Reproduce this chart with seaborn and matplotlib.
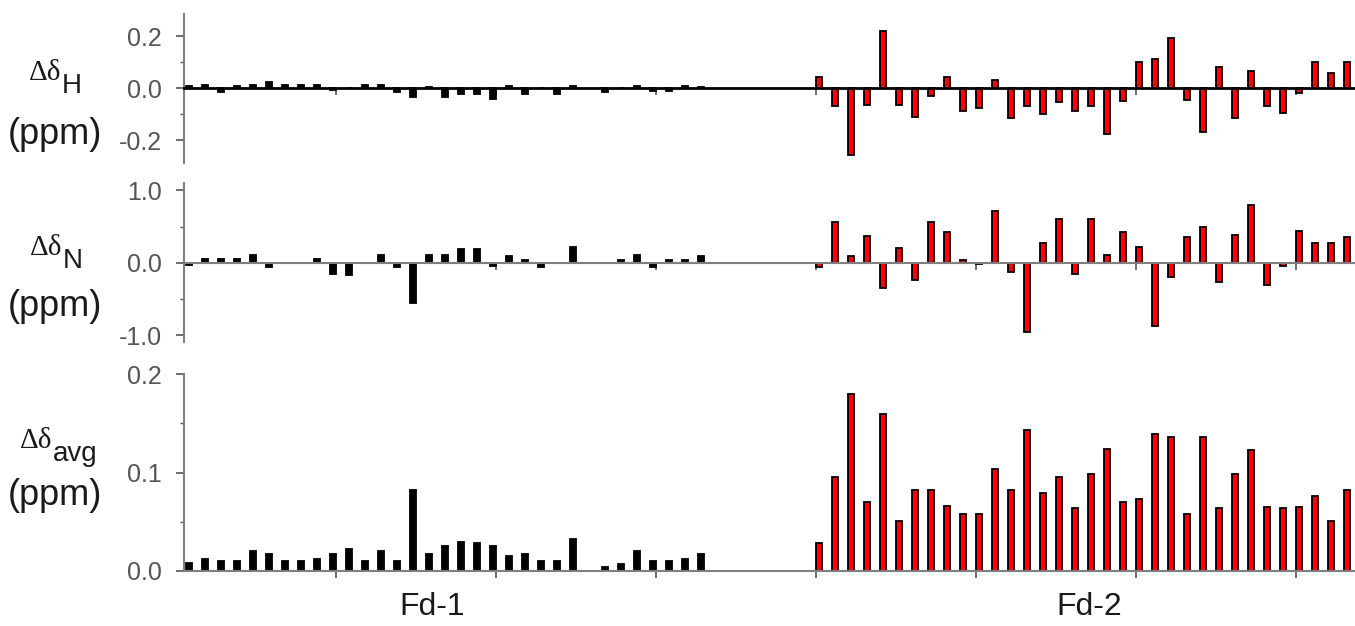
import numpy as np
import pandas as pd
import matplotlib
matplotlib.use("Agg")
import matplotlib.pyplot as plt
import matplotlib.transforms as mtransforms
import seaborn as sns

# ---------------- data ----------------
fd1_residues = [1, 2, 3, 4, 5, 6, 7, 8, 9, 10, 11, 12, 13, 14, 15, 16, 17, 18, 19, 20,
                21, 22, 23, 24, 25, 27, 28, 29, 30, 31, 32, 33]
fd1_dH = [0.008, 0.014, -0.015, 0.008, 0.012, 0.023, 0.012, 0.012, 0.012, -0.008,
          0.0, 0.012, 0.012, -0.014, -0.032, 0.006, -0.033, -0.021, -0.021, -0.040,
          0.008, -0.021, 0.0, -0.020, 0.010, -0.013, 0.0, 0.011, -0.012, -0.012,
          0.011, 0.007]
fd1_dN = [-0.035, 0.05, 0.05, 0.05, 0.11, -0.06, 0.0, 0.0, 0.05, -0.15,
          -0.17, 0.0, 0.11, -0.06, -0.55, 0.11, 0.11, 0.19, 0.19, -0.04,
          0.09, 0.045, -0.06, 0.0, 0.22, 0.0, 0.045, 0.11, -0.06, 0.045,
          0.045, 0.10]
fd1_avg = [0.008, 0.0126, 0.0103, 0.0103, 0.0199, 0.0172, 0.0103, 0.0103, 0.0126, 0.0172,
           0.0226, 0.0103, 0.0199, 0.0103, 0.0826, 0.0172, 0.0252, 0.0298, 0.028, 0.0252,
           0.0157, 0.0172, 0.0103, 0.0103, 0.0329, 0.0042, 0.0076, 0.0199, 0.0103, 0.0103,
           0.0126, 0.0172]

fd2_residues = [40, 41, 42, 43, 44, 45, 46, 47, 48, 49, 50, 51, 52, 53, 54, 55, 56,
                57, 58, 59, 60, 61, 62, 63, 64, 65, 66, 67, 68, 69, 70, 71, 72, 73]
fd2_dH = [0.043, -0.069, -0.255, -0.064, 0.219, -0.064, -0.109, -0.028, 0.043, -0.088,
          -0.076, 0.031, -0.113, -0.069, -0.097, -0.054, -0.087, -0.069, -0.176, -0.049,
          0.101, 0.112, 0.193, -0.046, -0.166, 0.081, -0.113, 0.066, -0.069, -0.094,
          -0.016, 0.101, 0.060, 0.101]
fd2_dN = [-0.06, 0.56, 0.10, 0.37, -0.34, 0.21, -0.23, 0.56, 0.42, 0.04,
          -0.02, 0.72, -0.13, -0.95, 0.27, 0.60, -0.16, 0.60, 0.11, 0.43,
          0.22, -0.87, -0.20, 0.35, 0.49, -0.27, 0.38, 0.80, -0.31, -0.05,
          0.44, 0.27, 0.27, 0.35]
fd2_avg = [0.028, 0.0956, 0.180, 0.070, 0.159, 0.0505, 0.0826, 0.0826, 0.0658, 0.058,
           0.0574, 0.1036, 0.0826, 0.143, 0.0788, 0.0956, 0.064, 0.0987, 0.124, 0.070,
           0.073, 0.139, 0.136, 0.0574, 0.136, 0.064, 0.0987, 0.123, 0.065, 0.064,
           0.065, 0.0757, 0.0505, 0.0826]

proteins = ["Fd-1", "Fd-2"]
group_label_x = [16.0, 57.1]

df = pd.DataFrame({
    "residue": fd1_residues + fd2_residues,
    "protein": ["Fd-1"] * len(fd1_residues) + ["Fd-2"] * len(fd2_residues),
    "dH": fd1_dH + fd2_dH,
    "dN": fd1_dN + fd2_dN,
    "avg": fd1_avg + fd2_avg,
})

# ---------------- style ----------------
sns.set_theme(style="white")
plt.rcParams["font.family"] = ["Liberation Sans", "DejaVu Sans"]
plt.rcParams["axes.unicode_minus"] = False

W_PX, H_PX = 1355, 626
fig = plt.figure(figsize=(W_PX / 100, H_PX / 100), dpi=100)

def fx(px):
    return px / W_PX

def fy(py):
    return 1 - py / H_PX

L = fx(184)
Wd = 1 - L
panels = [
    dict(col="dH", top=14, bot=163, ylim=(-0.287, 0.286), major=[-0.2, 0.0, 0.2],
         minor=[-0.1, 0.1], zero_color="black", zero_lw=2.0),
    dict(col="dN", top=183, bot=342, ylim=(-1.09, 1.10), major=[-1.0, 0.0, 1.0],
         minor=[-0.5, 0.5], zero_color="#7f7f7f", zero_lw=1.5),
    dict(col="avg", top=374, bot=571, ylim=(0.0, 0.2), major=[0.0, 0.1, 0.2],
         minor=[0.05, 0.15], zero_color="#7f7f7f", zero_lw=1.5),
]

palette = {"Fd-1": "black", "Fd-2": "#ff0000"}
axes = []
for p in panels:
    ax = fig.add_axes([L, fy(p["bot"]), Wd, (p["bot"] - p["top"]) / H_PX])
    sns.barplot(data=df, x="residue", y=p["col"], hue="protein", hue_order=proteins,
                palette=palette, native_scale=True, dodge=True, width=0.8,
                edgecolor="black", linewidth=1.3, saturation=1, legend=False,
                errorbar=None, ax=ax, zorder=2)
    ax.set_xlim(0.5, 73.7)
    ax.set_ylim(*p["ylim"])
    ax.set_xlabel("")
    ax.set_ylabel("")
    for s in ["top", "right"]:
        ax.spines[s].set_visible(False)
    ax.spines["bottom"].set_position(("data", 0))
    ax.spines["bottom"].set_color(p["zero_color"])
    ax.spines["bottom"].set_linewidth(p["zero_lw"])
    ax.spines["bottom"].set_zorder(3)
    ax.spines["left"].set_color("#7f7f7f")
    ax.spines["left"].set_linewidth(1.5)
    ax.set_xticks([10, 20, 30, 40, 50, 60, 70])
    ax.set_xticklabels([])
    ax.tick_params(axis="x", which="major", direction="out", length=5, width=1.2,
                   color="#555555", bottom=True)
    ax.set_yticks(p["major"])
    ax.set_yticklabels(["{:.1f}".format(v) for v in p["major"]])
    ax.set_yticks(p["minor"], minor=True)
    ax.tick_params(axis="y", which="major", direction="out", length=6, width=1.2,
                   color="#555555", labelsize=18, labelcolor="#555555", pad=10, left=True)
    ax.tick_params(axis="y", which="minor", direction="out", length=3, width=1.0,
                   color="#555555", left=True)
    ax.set_facecolor("none")
    ax.grid(False)
    axes.append(ax)

# ---------------- y labels ----------------
lab_color = "#1a1a1a"
ylabels = [("H", 61, 80, 144), ("N", 62, 255, 316), ("avg", 52, 448, 505)]
for sub, xr, ybase, ppm_y in ylabels:
    fig.text(fx(xr), fy(ybase), "Δδ", fontsize=21, color=lab_color,
             family=["Liberation Serif", "DejaVu Serif"], ha="right", va="baseline")
    fig.text(fx(xr + 1), fy(ybase + 13), sub, fontsize=20, color=lab_color,
             ha="left", va="baseline")
    fig.text(fx(55), fy(ppm_y), "(ppm)", fontsize=26, color=lab_color,
             ha="center", va="baseline")

# ---------------- group labels ----------------
ax3 = axes[-1]
trans = mtransforms.blended_transform_factory(ax3.transData, fig.transFigure)
for name, gx in zip(proteins, group_label_x):
    ax3.text(gx, fy(607), name, transform=trans, fontsize=23,
             color=lab_color, ha="center", va="center")

fig.savefig("out.png", dpi=100)
